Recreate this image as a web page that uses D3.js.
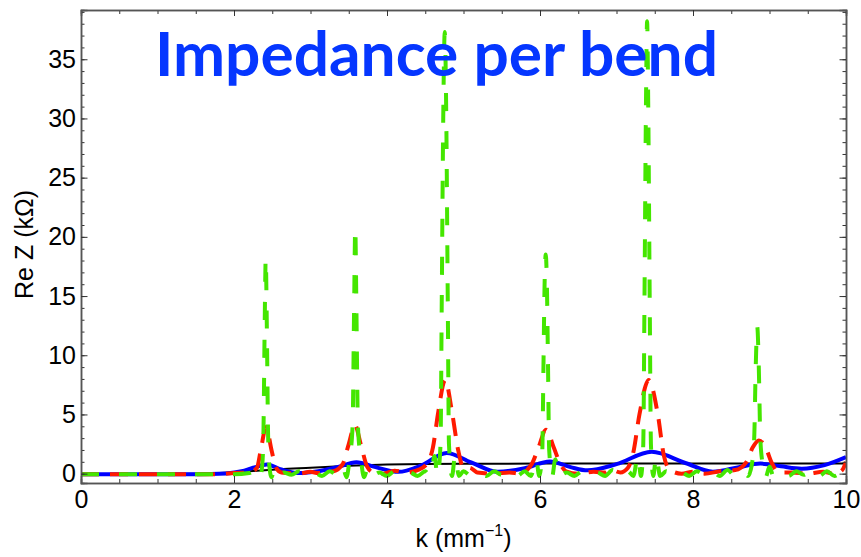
<!DOCTYPE html>
<html>
<head>
<meta charset="utf-8">
<script src="https://cdn.jsdelivr.net/npm/d3@7"></script>
<style>
  html, body { margin: 0; padding: 0; background: #fff; }
  svg { display: block; }
</style>
</head>
<body>
<svg id="chart" width="861" height="557"></svg>
<script>
// ---------------- data ----------------
const titleText = "Impedance per bend";
const xLabel = "k (mm";
const yLabel = "Re Z (kΩ)";
const xTicks = [0, 2, 4, 6, 8, 10];
const yTicks = [0, 5, 10, 15, 20, 25, 30, 35];

// black solid (smooth, slowly rising)
const blackK = [0, 1, 1.5, 2, 2.3, 2.6, 3, 3.5, 4, 4.5, 5, 6, 7, 8, 9, 10];
const blackV = [-0.05, -0.03, 0, 0.12, 0.25, 0.38, 0.5, 0.66, 0.77, 0.82, 0.84, 0.85, 0.85, 0.85, 0.85, 0.85];

// blue solid (smooth oscillation)
const blueK = [0, 1.5, 1.9, 2.1, 2.25, 2.43, 2.62, 2.85, 3.1, 3.35, 3.6, 3.85, 4.15, 4.45, 4.78, 5.1, 5.45, 5.8, 6.13, 6.4, 6.62, 7.0, 7.46, 7.9, 8.26, 8.6, 8.88, 9.15, 9.42, 9.72, 10];
const blueV = [-0.05, -0.05, 0.02, 0.2, 0.5, 0.78, 0.35, 0.05, 0.2, 0.55, 0.96, 0.55, 0.15, 0.7, 1.75, 0.95, 0.15, 0.45, 1.02, 0.55, 0.28, 0.8, 1.85, 0.9, 0.17, 0.55, 0.85, 0.62, 0.42, 0.72, 1.4];

// red dashed
const redK = [0, 1.8, 2.0, 2.2, 2.3, 2.35, 2.42, 2.49, 2.55, 2.62, 2.7, 2.85, 3.0, 3.1, 3.3, 3.42, 3.5, 3.58, 3.66, 3.74, 3.82, 3.95, 4.1, 4.25, 4.4, 4.52, 4.6, 4.67, 4.76, 4.85, 4.93, 5.0, 5.08, 5.18, 5.4, 5.6, 5.75, 5.83, 5.9, 5.98, 6.08, 6.18, 6.26, 6.34, 6.5, 6.7, 6.85, 6.92, 7.05, 7.15, 7.22, 7.3, 7.42, 7.54, 7.62, 7.7, 7.85, 8.0, 8.15, 8.35, 8.55, 8.7, 8.78, 8.86, 8.95, 9.03, 9.12, 9.3, 9.5, 9.7, 9.85, 9.95, 10];
const redV = [-0.05, -0.05, 0.05, 0.1, 0.5, 2.0, 3.95, 2.0, 0.5, 0.1, 0.05, 0.0, 0.15, 0.05, 0.2, 0.8, 2.5, 4.1, 2.4, 0.6, 0.1, 0.0, 0.25, 0.1, 0.3, 0.8, 2.2, 5.2, 7.9, 5.2, 2.0, 0.5, 0.5, 0.1, 0.0, 0.1, 0.0, 0.3, 0.9, 2.2, 3.7, 2.2, 0.9, 0.2, 0.0, 0.15, 0.1, 0.35, 0.1, 0.5, 1.8, 5.0, 7.9, 5.0, 1.5, 0.3, 0.0, 0.15, 0.0, 0.2, 0.3, 1.0, 2.2, 2.8, 2.2, 0.9, 0.1, 0.1, 0.0, 0.15, 0.0, 0.3, 1.0];

// green dashed (very narrow resonances)
const greenK = [0, 2.0, 2.2, 2.3, 2.34, 2.37, 2.385, 2.40, 2.415, 2.43, 2.445, 2.46, 2.49, 2.53, 2.58, 2.65, 2.75, 2.85, 2.95, 3.05, 3.15, 3.25, 3.35, 3.42, 3.47, 3.51, 3.55, 3.57, 3.585, 3.60, 3.62, 3.66, 3.70, 3.75, 3.8, 3.9, 4.0, 4.1, 4.2, 4.3, 4.4, 4.5, 4.57, 4.62, 4.66, 4.70, 4.715, 4.735, 4.755, 4.775, 4.795, 4.81, 4.85, 4.89, 4.94, 5.0, 5.1, 5.2, 5.3, 5.4, 5.5, 5.6, 5.7, 5.8, 5.88, 5.95, 5.99, 6.03, 6.045, 6.06, 6.075, 6.09, 6.105, 6.12, 6.16, 6.2, 6.25, 6.35, 6.45, 6.55, 6.65, 6.75, 6.85, 6.95, 7.05, 7.15, 7.22, 7.28, 7.32, 7.35, 7.365, 7.385, 7.40, 7.415, 7.435, 7.45, 7.48, 7.52, 7.57, 7.65, 7.75, 7.85, 7.95, 8.05, 8.15, 8.25, 8.35, 8.45, 8.55, 8.65, 8.72, 8.77, 8.80, 8.82, 8.84, 8.86, 8.88, 8.91, 8.95, 9.0, 9.05, 9.15, 9.25, 9.35, 9.45, 9.55, 9.65, 9.75, 9.85, 9.95, 10];
const greenV = [-0.05, -0.05, 0.05, 0.3, -0.3, 0.8, 3.5, 12, 18.2, 12, 3.5, 0.8, -0.3, 0.4, -0.2, 0.1, -0.1, 0.2, -0.1, 0.1, -0.2, 0.2, -0.1, 0.6, -0.3, 1.2, 4.0, 14, 20.8, 14, 4.0, 1.2, -0.3, 0.5, -0.2, 0.1, -0.2, 0.2, -0.1, 0.1, -0.2, 0.2, -0.2, 1.5, -0.2, 2.5, 14, 30, 37.3, 30, 14, 2.5, -0.2, 1.5, -0.2, 0.2, -0.2, 0.1, -0.2, 0.2, -0.1, 0.1, -0.2, 0.2, -0.2, 1.2, -0.2, 2.0, 9, 16, 18.5, 16, 9, 2.0, -0.2, 1.2, -0.2, 0.1, -0.2, 0.2, -0.1, 0.1, -0.2, 0.3, -0.2, 0.2, -0.2, 1.5, -0.2, 2.5, 14, 31, 38.2, 31, 14, 2.5, -0.2, 1.5, -0.2, 0.2, -0.2, 0.1, -0.2, 0.2, -0.1, 0.2, -0.2, 0.3, -0.2, 0.2, -0.2, 0.8, 3, 9, 12.4, 9, 3, 0.8, -0.3, 0.6, -0.2, 0.1, -0.2, 0.2, -0.1, 0.3, -0.2, 0.2, -0.2, 0.1, 0];

// ---------------- drawing ----------------
const svg = d3.select("#chart");
const mLeft = 81, mRight = 846, mTop = 10, mBottom = 483;

const x = d3.scaleLinear().domain([0, 10]).range([mLeft, mRight]);
const y = d3.scaleLinear().domain([-0.79, 39.16]).range([mBottom, mTop]);

svg.append("defs").append("clipPath").attr("id", "clip")
  .append("rect").attr("x", mLeft).attr("y", mTop).attr("width", mRight - mLeft).attr("height", mBottom - mTop);

const plot = svg.append("g").attr("clip-path", "url(#clip)");

function series(ks, vs) { return ks.map((k, i) => [k, vs[i]]); }
const line = d3.line().x(d => x(d[0])).y(d => y(d[1])).curve(d3.curveMonotoneX);

plot.append("path").datum(series(blackK, blackV)).attr("d", line)
  .attr("fill", "none").attr("stroke", "#000").attr("stroke-width", 2);
plot.append("path").datum(series(blueK, blueV)).attr("d", line)
  .attr("fill", "none").attr("stroke", "#0000ff").attr("stroke-width", 4);
plot.append("path").datum(series(redK, redV)).attr("d", line)
  .attr("fill", "none").attr("stroke", "#ff1a00").attr("stroke-width", 4)
  .attr("stroke-dasharray", "18,11");
plot.append("path").datum(series(greenK, greenV)).attr("d", line)
  .attr("fill", "none").attr("stroke", "#44e600").attr("stroke-width", 4)
  .attr("stroke-dasharray", "18,20");

// axes (frame with inward ticks)
const fontFam = "'Liberation Sans', Arial, Helvetica, sans-serif";
const frameColor = "#555";
const xMinor = d3.range(0, 10.01, 0.5);
const yMinor = d3.range(0, 39.1, 1);

function styleAxis(g) {
  g.select(".domain").attr("stroke", frameColor).attr("stroke-width", 1.5);
  g.selectAll(".tick line").attr("stroke", "#333").attr("stroke-width", 1);
  g.selectAll("text").attr("font-family", fontFam).attr("font-size", 25).attr("fill", "#000");
}

// bottom
svg.append("g").attr("transform", `translate(0,${mBottom})`)
  .call(d3.axisBottom(x).tickValues(xMinor).tickSize(-4).tickFormat(""))
  .call(styleAxis);
svg.append("g").attr("transform", `translate(0,${mBottom})`)
  .call(d3.axisBottom(x).tickValues(xTicks).tickSize(-7).tickPadding(7).tickFormat(d3.format("d")))
  .call(styleAxis);
// top
svg.append("g").attr("transform", `translate(0,${mTop})`)
  .call(d3.axisTop(x).tickValues(xMinor).tickSize(-4).tickFormat(""))
  .call(styleAxis);
svg.append("g").attr("transform", `translate(0,${mTop})`)
  .call(d3.axisTop(x).tickValues(xTicks).tickSize(-6).tickFormat(""))
  .call(styleAxis);
// left
svg.append("g").attr("transform", `translate(${mLeft},0)`)
  .call(d3.axisLeft(y).tickValues(yMinor).tickSize(-3.5).tickFormat(""))
  .call(styleAxis);
svg.append("g").attr("transform", `translate(${mLeft},0)`)
  .call(d3.axisLeft(y).tickValues(yTicks).tickSize(-6.5).tickPadding(5).tickFormat(d3.format("d")))
  .call(styleAxis);
// right
svg.append("g").attr("transform", `translate(${mRight},0)`)
  .call(d3.axisRight(y).tickValues(yMinor).tickSize(-3.5).tickFormat(""))
  .call(styleAxis);
svg.append("g").attr("transform", `translate(${mRight},0)`)
  .call(d3.axisRight(y).tickValues(yTicks).tickSize(-6.5).tickFormat(""))
  .call(styleAxis);

// axis labels
const xl = svg.append("text")
  .attr("x", (mLeft + mRight) / 2).attr("y", 547)
  .attr("text-anchor", "middle")
  .attr("font-family", fontFam).attr("font-size", 25).attr("fill", "#000");
xl.append("tspan").text(xLabel);
xl.append("tspan").attr("font-size", 16).attr("dy", -11).text("−1");
xl.append("tspan").attr("dy", 11).text(")");

svg.append("text")
  .attr("transform", `translate(33,${(mTop + mBottom) / 2 - 2}) rotate(-90)`)
  .attr("text-anchor", "middle")
  .attr("font-family", fontFam).attr("font-size", 25).attr("fill", "#000")
  .text(yLabel);

// title
svg.append("text")
  .attr("x", 155).attr("y", 76)
  .attr("font-family", "Lato, 'Open Sans', sans-serif")
  .attr("font-weight", "bold").attr("font-size", 61)
  .attr("fill", "#0536ff")
  .attr("textLength", 563).attr("lengthAdjust", "spacingAndGlyphs")
  .text(titleText);
</script>
</body>
</html>
